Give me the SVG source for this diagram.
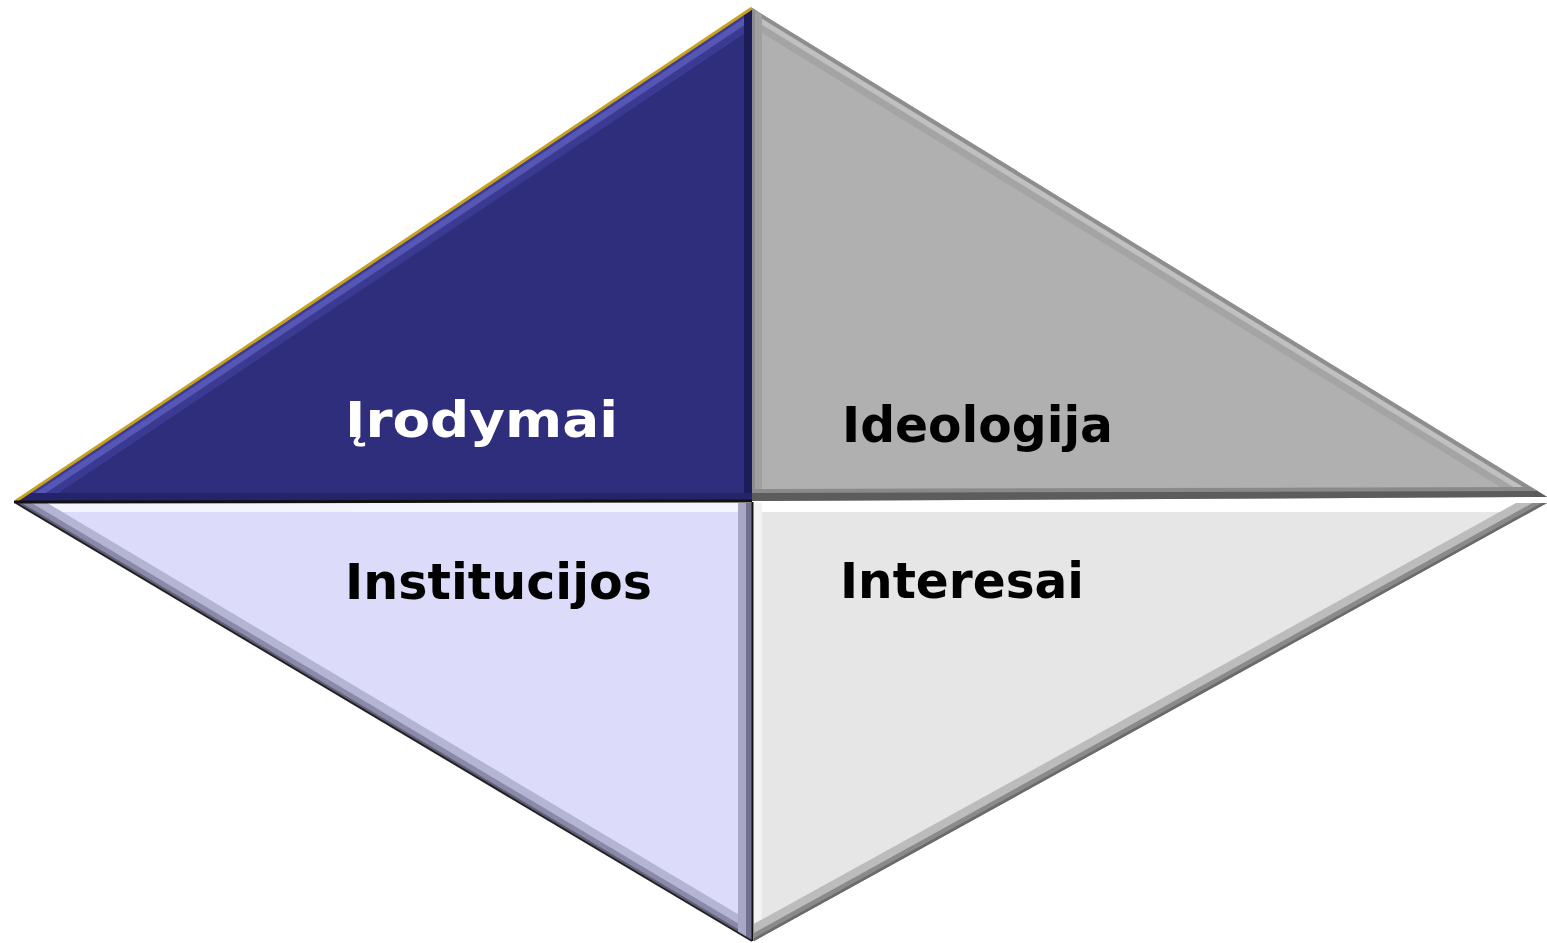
<svg xmlns="http://www.w3.org/2000/svg" width="1547" height="943" viewBox="0 0 1547 943">
<style>
.lbl{font-family:"DejaVu Sans","Liberation Sans",sans-serif;font-weight:bold;font-size:49px}
</style>
<defs>
<clipPath id="cTL"><polygon points="752,8 16,501 752,501"/></clipPath>
<clipPath id="cTR"><polygon points="752,8 1547,497 752,501"/></clipPath>
<clipPath id="cBL"><polygon points="16,503 752,503 752,941"/></clipPath>
<clipPath id="cBR"><polygon points="754,503 1547,503 754,941"/></clipPath>
</defs>
<rect width="1547" height="943" fill="#ffffff"/>
<g id="node-irodymai">
<polygon points="752,8 16,501 752,501" fill="#2e2e7c"/>
<g clip-path="url(#cTL)" fill="none">
<line x1="752" y1="8" x2="16" y2="501" stroke="#3a3a92" stroke-width="34"/>
<line x1="752" y1="8" x2="16" y2="501" stroke="#5656b4" stroke-width="20"/>
<line x1="752" y1="8" x2="16" y2="501" stroke="#3c3c98" stroke-width="8"/>
<line x1="752" y1="8" x2="752" y2="501" stroke="#1c1c58" stroke-width="16"/>
<line x1="16" y1="501" x2="752" y2="501" stroke="#24246a" stroke-width="16"/>
</g>
<line x1="752" y1="8" x2="16" y2="501" stroke="#c8a21a" stroke-width="3"/>
<text class="lbl" x="345" y="437" fill="#ffffff" textLength="273" lengthAdjust="spacingAndGlyphs">Įrodymai</text>
</g>
<g id="node-ideologija">
<polygon points="752,8 1547,497 752,501" fill="#b0b0b0"/>
<g clip-path="url(#cTR)" fill="none">
<line x1="752" y1="8" x2="1547" y2="497" stroke="#a4a4a4" stroke-width="32"/>
<line x1="752" y1="8" x2="1547" y2="497" stroke="#c0c0c0" stroke-width="18"/>
<line x1="752" y1="8" x2="1547" y2="497" stroke="#8e8e8e" stroke-width="8"/>
<line x1="752" y1="8" x2="752" y2="501" stroke="#a0a0a0" stroke-width="20"/>
<line x1="752" y1="8" x2="752" y2="501" stroke="#8c8c8c" stroke-width="6"/>
<line x1="752" y1="499" x2="1547" y2="497" stroke="#5c5c5c" stroke-width="14"/>
<line x1="752" y1="491" x2="1547" y2="489" stroke="#8a8a8a" stroke-width="4"/>
</g>
<text class="lbl" x="842" y="442" fill="#000000" textLength="271" lengthAdjust="spacingAndGlyphs">Ideologija</text>
</g>
<g id="node-institucijos">
<polygon points="16,503 752,503 752,941" fill="#dcdcfa"/>
<g clip-path="url(#cBL)" fill="none">
<line x1="16" y1="503" x2="752" y2="503" stroke="#f4f4ff" stroke-width="18"/>
<line x1="16" y1="503" x2="752" y2="941" stroke="#b4b4d4" stroke-width="32"/>
<line x1="16" y1="503" x2="752" y2="941" stroke="#8a8aa8" stroke-width="16"/>
<line x1="16" y1="503" x2="752" y2="941" stroke="#5e5e78" stroke-width="6"/>
<line x1="752" y1="503" x2="752" y2="941" stroke="#a8a8c6" stroke-width="28"/>
<line x1="752" y1="503" x2="752" y2="941" stroke="#72728e" stroke-width="12"/>
</g>
<line x1="16" y1="503" x2="752" y2="941" stroke="#222222" stroke-width="2"/>
<text class="lbl" x="345" y="599" fill="#000000" textLength="307" lengthAdjust="spacingAndGlyphs">Institucijos</text>
</g>
<g id="node-interesai">
<polygon points="754,503 1547,503 754,941" fill="#e6e6e6"/>
<g clip-path="url(#cBR)" fill="none">
<line x1="754" y1="503" x2="1547" y2="503" stroke="#ffffff" stroke-width="18"/>
<line x1="754" y1="503" x2="754" y2="941" stroke="#f2f2f2" stroke-width="16"/>
<line x1="1547" y1="503" x2="754" y2="941" stroke="#bcbcbc" stroke-width="30"/>
<line x1="1547" y1="503" x2="754" y2="941" stroke="#8a8a8a" stroke-width="14"/>
<line x1="1547" y1="503" x2="754" y2="941" stroke="#6a6a6a" stroke-width="5"/>
</g>
<text class="lbl" x="840" y="598" fill="#000000" textLength="244" lengthAdjust="spacingAndGlyphs">Interesai</text>
</g>
<g id="connectors">
<line x1="14" y1="502" x2="752" y2="501" stroke="#111111" stroke-width="3"/>
<line x1="752.5" y1="502" x2="752.5" y2="941" stroke="#111111" stroke-width="2"/>
</g>
</svg>
